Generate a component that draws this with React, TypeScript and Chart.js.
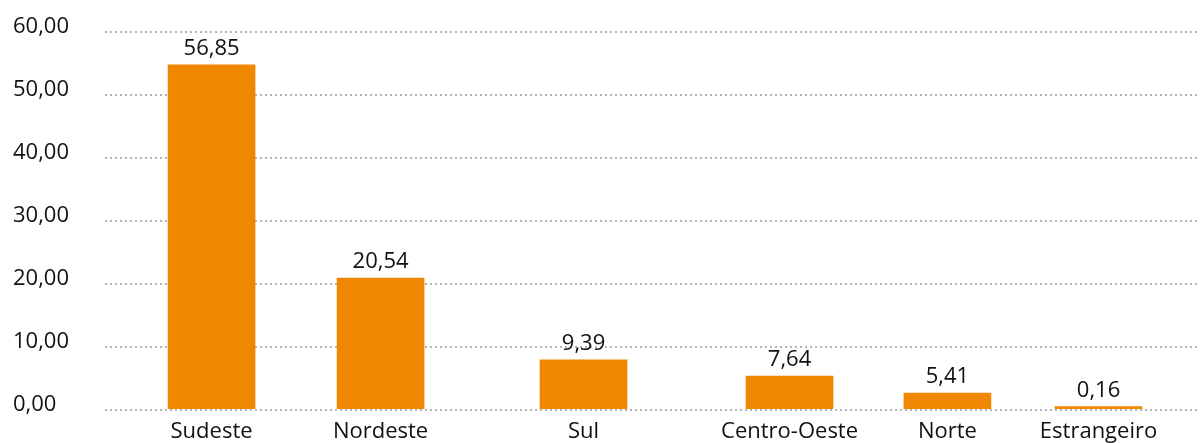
import React, { useEffect, useRef } from "react";
import { Chart, registerables } from "chart.js";

Chart.register(...registerables);

// Categories (x axis) as printed under the bars
const categories = ["Sudeste", "Nordeste", "Sul", "Centro-Oeste", "Norte", "Estrangeiro"];
// Values printed above the bars
const printedValues = [56.85, 20.54, 9.39, 7.64, 5.41, 0.16];
// Bar heights as drawn in the reference (read against the y grid)
const barHeights = [54.7, 20.9, 7.9, 5.35, 2.65, 0.5];
// Position of each category along the x axis (in slot units, axis runs 0..6)
const categorySlots = [0.584, 1.51, 2.622, 3.751, 4.616, 5.444];
// Y axis ticks
const yTicks = [0, 10, 20, 30, 40, 50, 60];

const FONT = "'Open Sans', 'Noto Sans', sans-serif";
const ORANGE = "#F08700";
const TEXT = "#111111";

const fmt = (v: number) => v.toFixed(2).replace(".", ",");

const valueLabels = {
  id: "valueLabels",
  afterDatasetsDraw(chart: any) {
    const ctx = chart.ctx;
    const meta = chart.getDatasetMeta(0);
    ctx.save();
    ctx.font = `22px ${FONT}`;
    ctx.fillStyle = TEXT;
    ctx.textAlign = "center";
    ctx.textBaseline = "alphabetic";
    meta.data.forEach((el: any, i: number) => {
      ctx.fillText(fmt(printedValues[i]), el.x, el.y - 10);
    });
    ctx.restore();
  },
};

export default function App() {
  const ref = useRef<HTMLCanvasElement>(null);
  useEffect(() => {
    document.body.style.margin = "0";
    const canvas = ref.current!;
    const chart = new Chart(canvas, {
      type: "bar",
      data: {
        datasets: [
          {
            data: categorySlots.map((x, i) => ({ x, y: barHeights[i] })),
            backgroundColor: ORANGE,
            borderWidth: 0,
            barThickness: 87,
          },
        ],
      },
      options: {
        animation: false,
        responsive: false,
        maintainAspectRatio: false,
        layout: { padding: { left: 13, top: 31.5, right: 0, bottom: 0 } },
        plugins: { legend: { display: false }, tooltip: { enabled: false } },
        scales: {
          x: {
            type: "linear",
            min: 0,
            max: 6,
            offset: false,
            grid: { display: false, drawTicks: false },
            border: { display: false },
            afterBuildTicks: (scale: any) => {
              scale.ticks = categorySlots.map((v) => ({ value: v }));
            },
            afterFit: (scale: any) => {
              scale.height = 33.3;
            },
            ticks: {
              autoSkip: false,
              maxRotation: 0,
              minRotation: 0,
              padding: 9,
              color: TEXT,
              font: { family: FONT, size: 22 },
              callback: (_v: any, i: number) => categories[i],
            },
          },
          y: {
            min: 0,
            max: 60,
            afterBuildTicks: (scale: any) => {
              scale.ticks = yTicks.map((v) => ({ value: v }));
            },
            afterFit: (scale: any) => {
              scale.width = 92;
            },
            grid: { color: "#b4b4b4", lineWidth: 2, drawTicks: false },
            border: { display: false, dash: [2, 3] },
            ticks: {
              crossAlign: "far",
              padding: 0,
              labelOffset: -5,
              color: TEXT,
              font: { family: FONT, size: 22 },
              callback: (v: any) => fmt(Number(v)),
            },
          },
        },
      },
      plugins: [valueLabels],
    });
    return () => chart.destroy();
  }, []);
  return <canvas ref={ref} width={1200} height={443} style={{ display: "block" }} />;
}
